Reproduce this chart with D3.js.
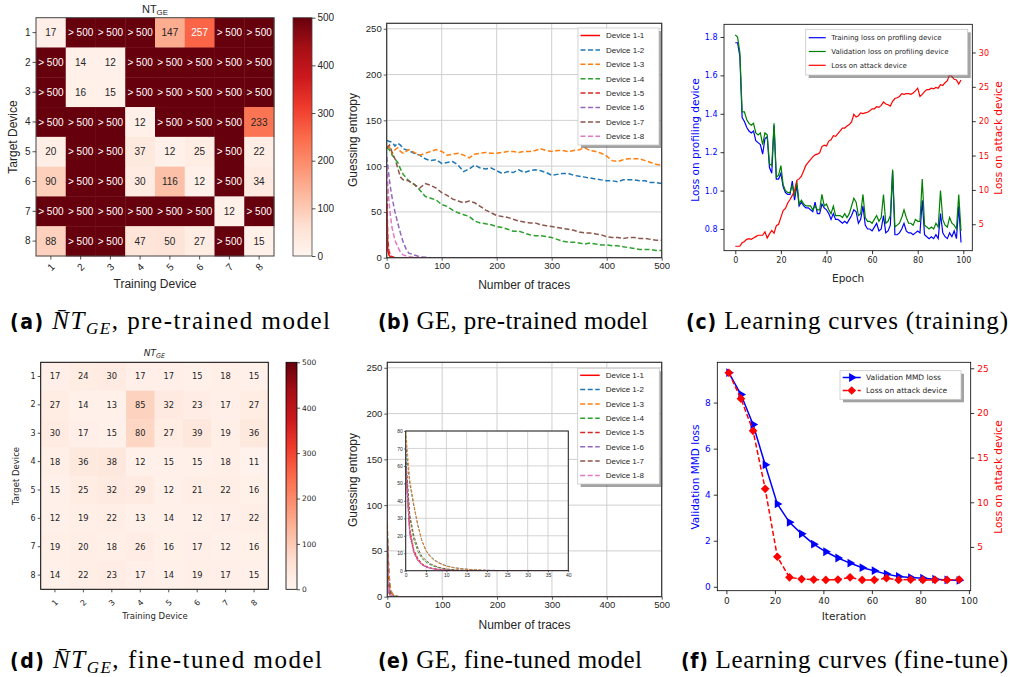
<!DOCTYPE html>
<html>
<head>
<meta charset="utf-8">
<script src="https://cdn.jsdelivr.net/npm/d3@7"></script>
<style>
  body { margin: 0; background: #fff; }
  svg { display: block; }
</style>
</head>
<body>
<svg id="fig" width="1010" height="677"></svg>
<script>
// ---------------- data ----------------
const devices = ["1", "2", "3", "4", "5", "6", "7", "8"];
const OVER = null; // cell shown as "> 500"

// NT_GE, pre-trained model (rows = target device, cols = training device)
const ntPretrained = [
  [17, OVER, OVER, OVER, 147, 257, OVER, OVER],
  [OVER, 14, 12, OVER, OVER, OVER, OVER, OVER],
  [OVER, 16, 15, OVER, OVER, OVER, OVER, OVER],
  [OVER, OVER, OVER, 12, OVER, OVER, OVER, 233],
  [20, OVER, OVER, 37, 12, 25, OVER, 22],
  [90, OVER, OVER, 30, 116, 12, OVER, 34],
  [OVER, OVER, OVER, OVER, OVER, OVER, 12, OVER],
  [88, OVER, OVER, 47, 50, 27, OVER, 15]
];

// NT_GE, fine-tuned model
const ntFinetuned = [
  [17, 24, 30, 17, 17, 15, 18, 15],
  [27, 14, 13, 85, 32, 23, 17, 27],
  [30, 17, 15, 80, 27, 39, 19, 36],
  [18, 36, 38, 12, 15, 15, 18, 11],
  [15, 25, 32, 29, 12, 21, 22, 16],
  [12, 19, 22, 13, 14, 12, 17, 22],
  [19, 20, 18, 26, 16, 17, 12, 16],
  [14, 22, 23, 17, 14, 19, 17, 15]
];
const heatTicks = [0, 100, 200, 300, 400, 500];

const geNames = ["Device 1-1", "Device 1-2", "Device 1-3", "Device 1-4",
                 "Device 1-5", "Device 1-6", "Device 1-7", "Device 1-8"];
const geXTicks = [0, 100, 200, 300, 400, 500];
const geYTicks = [0, 50, 100, 150, 200, 250];

// GE, pre-trained model: slow devices
const geSlowX = [0, 5, 10, 15, 20, 25, 30, 40, 50, 60, 70, 80, 90, 100, 110, 120, 130, 140, 150, 160,
  170, 180, 190, 200, 210, 220, 230, 240, 250, 260, 270, 280, 290, 300, 310, 320, 330, 340, 350, 360,
  370, 380, 390, 400, 410, 420, 430, 440, 450, 460, 470, 480, 490, 500];
const gePre12 = [128, 127, 126, 122, 125, 123, 119, 117, 114, 112, 108, 106, 107, 103, 104, 105, 101, 94, 97, 101,
  98, 97, 98, 95, 92, 94, 93, 96, 93, 95, 96, 95, 93, 90, 91, 92, 92, 90, 89, 88,
  87, 86, 85, 84, 84, 83, 85, 85, 85, 84, 84, 82, 82, 81];
const gePre13 = [120, 121, 113, 118, 120, 116, 114, 118, 115, 112, 114, 116, 118, 116, 112, 113, 114, 112, 109, 113,
  114, 115, 114, 114, 115, 116, 116, 115, 116, 116, 117, 119, 117, 116, 117, 117, 116, 117, 118, 120,
  117, 116, 114, 111, 106, 105, 107, 108, 108, 108, 106, 104, 102, 101];
const gePre14 = [120, 118, 112, 108, 104, 97, 91, 84, 80, 74, 67, 65, 63, 58, 56, 52, 49, 47, 45, 40,
  38, 37, 36, 34, 33, 31, 29, 29, 27, 25, 24, 24, 23, 22, 20, 18, 17, 17, 16, 15,
  16, 15, 14, 14, 13, 13, 12, 11, 10, 9, 9, 9, 8, 8];
const gePre17 = [120, 123, 115, 108, 98, 88, 85, 84, 80, 76, 81, 79, 76, 71, 68, 64, 62, 60, 62, 60,
  56, 52, 49, 46, 45, 44, 42, 40, 39, 38, 38, 36, 35, 34, 33, 32, 31, 30, 28, 27,
  27, 26, 25, 23, 22, 22, 21, 22, 22, 21, 21, 20, 19, 19];
// GE, pre-trained model: fast devices
const geFastX = [0, 2, 4, 6, 8, 10, 15, 20, 25, 30, 35, 40, 50, 60, 80, 100, 500];
const gePre11 = [60, 8, 3, 1.5, 1, 0.5, 0, 0, 0, 0, 0, 0, 0, 0, 0, 0, 0];
const gePre15 = [75, 20, 8, 4, 2, 1, 0, 0, 0, 0, 0, 0, 0, 0, 0, 0, 0];
const gePre16 = [110, 100, 90, 80, 72, 65, 50, 38, 27, 17, 10, 5, 3, 1, 0, 0, 0];
const gePre18 = [100, 80, 62, 50, 40, 32, 19, 12, 6, 3, 2, 1, 0.5, 0, 0, 0, 0];

// GE, fine-tuned model
const geFineX = [0, 1, 2, 3, 4, 5, 6, 7, 8, 9, 10, 12, 14, 16, 18, 20, 25, 30, 40, 500];
const geFine11 = [60, 22, 11, 6, 3.5, 2.2, 1.5, 1, 0.7, 0.5, 0.3, 0.1, 0, 0, 0, 0, 0, 0, 0, 0];
const geFine12 = [72, 50, 37, 26, 17, 11.5, 8.5, 6.3, 4.8, 3.7, 2.8, 1.7, 1.1, 0.7, 0.4, 0.25, 0, 0, 0, 0];
const geFine13 = [80, 52, 38, 26, 17, 11.5, 8, 6, 4.5, 3.5, 2.6, 1.6, 1, 0.6, 0.4, 0.2, 0, 0, 0, 0];
const geFine14 = [65, 30, 18, 11, 7, 5, 3.5, 2.5, 1.8, 1.2, 0.8, 0.4, 0.2, 0, 0, 0, 0, 0, 0, 0];
const geFine15 = [62, 24, 12, 7, 4, 2.5, 1.7, 1.1, 0.8, 0.5, 0.3, 0.1, 0, 0, 0, 0, 0, 0, 0, 0];
const geFine16 = [58, 20, 10, 5.5, 3.3, 2, 1.4, 1, 0.6, 0.4, 0.2, 0.1, 0, 0, 0, 0, 0, 0, 0, 0];
const geFine17 = [65, 32, 20, 13, 8, 6, 4, 3, 2, 1.5, 1, 0.5, 0.3, 0.1, 0, 0, 0, 0, 0, 0];
const geFine18 = [60, 21, 11, 6, 3.6, 2.4, 1.6, 1.1, 0.8, 0.5, 0.3, 0.1, 0, 0, 0, 0, 0, 0, 0, 0];
const insetXTicks = [0, 5, 10, 15, 20, 25, 30, 35, 40];
const insetYTicks = [0, 10, 20, 30, 40, 50, 60, 70, 80];

// learning curves (training), one value per epoch 0..99
const epochs = d3.range(100);
const trainLoss = [1.77, 1.77, 1.70, 1.38, 1.36, 1.33, 1.31, 1.30, 1.31, 1.26,
  1.25, 1.24, 1.19, 1.27, 1.28, 1.12, 1.09, 1.34, 1.06, 1.06,
  1.09, 1.02, 0.99, 0.98, 0.98, 1.05, 0.95, 1.03, 0.92, 0.94,
  0.92, 0.91, 0.91, 0.90, 0.89, 0.94, 0.88, 0.88, 0.93, 0.91,
  0.90, 0.88, 0.85, 0.88, 0.85, 0.85, 0.84, 0.83, 0.84, 0.83,
  0.85, 0.87, 0.90, 0.89, 0.83, 0.85, 0.92, 0.82, 0.80, 0.80,
  0.79, 0.81, 0.83, 0.79, 0.80, 0.87, 0.78, 0.79, 0.82, 1.10,
  0.77, 0.77, 0.78, 0.80, 0.83, 0.79, 0.78, 0.78, 0.77, 0.78,
  0.79, 0.78, 0.95, 0.77, 0.76, 0.75, 0.76, 0.75, 0.77, 0.75,
  0.88, 0.78, 0.76, 0.75, 0.78, 0.76, 0.79, 0.75, 0.92, 0.73];
const valLoss = [1.81, 1.80, 1.72, 1.41, 1.41, 1.37, 1.35, 1.34, 1.35, 1.30,
  1.29, 1.30, 1.24, 1.30, 1.29, 1.14, 1.13, 1.35, 1.07, 1.08,
  1.13, 1.03, 1.00, 0.99, 0.99, 1.03, 0.97, 1.05, 0.93, 0.95,
  0.93, 0.92, 0.92, 0.92, 0.90, 0.92, 0.90, 0.90, 0.98, 0.92,
  0.93, 0.90, 0.88, 0.92, 0.87, 0.87, 0.87, 0.86, 0.88, 0.86,
  0.88, 0.92, 0.96, 0.94, 0.87, 0.88, 0.98, 0.86, 0.84, 0.84,
  0.83, 0.85, 0.87, 0.84, 0.86, 0.98, 0.83, 0.84, 0.87, 1.11,
  0.81, 0.82, 0.83, 0.86, 0.90, 0.86, 0.83, 0.83, 0.82, 0.85,
  0.84, 0.84, 1.06, 0.82, 0.81, 0.80, 0.81, 0.80, 0.83, 0.81,
  1.00, 0.85, 0.82, 0.81, 0.86, 0.83, 0.82, 0.80, 0.98, 0.79];
const attackLossTrain = [1.8, 1.8, 1.8, 2.3, 2.5, 2.8, 2.9, 2.8, 3.0, 3.2,
  3.4, 3.4, 3.4, 3.9, 3.0, 3.6, 4.1, 3.7, 4.8, 5.0,
  6.0, 7.0, 7.3, 8.1, 8.6, 9.2, 9.9, 11.4, 11.6, 12.0,
  12.8, 13.6, 14.0, 14.4, 14.8, 15.1, 15.2, 15.4, 16.3, 16.5,
  16.4, 17.1, 17.3, 17.9, 17.8, 18.2, 18.6, 19.0, 19.0, 19.3,
  19.5, 19.9, 21.0, 20.6, 20.8, 21.2, 21.1, 21.2, 21.3, 21.5,
  21.8, 21.8, 22.1, 22.0, 22.3, 22.8, 22.5, 22.4, 22.2, 22.9,
  23.3, 23.4, 23.6, 24.0, 23.9, 24.0, 24.0, 23.9, 24.1, 24.4,
  24.8, 23.6, 23.9, 24.3, 24.6, 24.6, 24.8, 24.7, 24.9, 24.8,
  25.3, 25.2, 25.6, 25.9, 26.8, 26.5, 26.1, 26.0, 25.4, 26.0];

// learning curves (fine-tune)
const iterations = [1, 6, 11, 16, 21, 26, 31, 36, 41, 46, 51, 56, 61, 66, 71, 76, 81, 86, 91, 96];
const mmdLoss = [9.3, 8.35, 7.05, 5.3, 3.6, 2.8, 2.3, 1.85, 1.52, 1.25, 1.03, 0.83, 0.70, 0.55, 0.45, 0.40, 0.37, 0.33, 0.30, 0.28];
const attackLossFine = [24.5, 21.6, 18.0, 11.5, 3.9, 1.6, 1.4, 1.35, 1.3, 1.35, 1.6, 1.3, 1.3, 1.5, 1.3, 1.35, 1.3, 1.3, 1.3, 1.35];

// ---------------- drawing ----------------
const svg = d3.select("#fig");
const defs = svg.append("defs");
const SANS = "'Liberation Sans', Arial, sans-serif";
const DEJA = "'DejaVu Sans', sans-serif";
const SERIF = "'Liberation Serif', 'DejaVu Serif', serif";
const BOLDSANS = "'DejaVu Sans Condensed', 'DejaVu Sans', sans-serif";
const INK = "#262626";
const tab = ["#ff0000", "#1f77b4", "#ff7f0e", "#2ca02c", "#d62728", "#9467bd", "#8c564b", "#e377c2"];

const reds = d3.scaleLinear()
  .domain(d3.range(9).map(i => i * 500 / 8))
  .range(d3.schemeReds[9])
  .clamp(true);

function addAxis(parent, axis, transform, o) {
  const a = parent.append("g").attr("transform", transform).call(axis);
  a.select(".domain").remove();
  a.attr("font-family", null).attr("font-size", null);
  a.selectAll("text").attr("font-family", o.font).attr("font-size", o.size).attr("fill", o.color || INK);
  a.selectAll(".tick line").attr("stroke", o.tickColor || INK).attr("stroke-width", o.tickWidth || 0.8);
  return a;
}

function label(g, x, y, text, o) {
  return g.append("text")
    .attr("transform", `translate(${x},${y})` + (o.rotate ? " rotate(-90)" : ""))
    .attr("text-anchor", "middle").attr("dy", "0.35em")
    .attr("font-family", o.font).attr("font-size", o.size)
    .attr("fill", o.color || INK).text(text);
}

function heatmap(o) {
  const g = svg.append("g");
  const x = d3.scaleBand().domain(devices).range([o.x0, o.x1]);
  const y = d3.scaleBand().domain(devices).range([o.y0, o.y1]);
  const cells = o.data.flatMap((row, i) => row.map((v, j) => ({ row: devices[i], col: devices[j], v })));

  g.selectAll("rect.cell").data(cells).join("rect").attr("class", "cell")
    .attr("x", d => x(d.col)).attr("y", d => y(d.row))
    .attr("width", x.bandwidth() + 0.4).attr("height", y.bandwidth() + 0.4)
    .attr("fill", d => reds(d.v === OVER ? 500 : d.v));

  g.selectAll("text.cell").data(cells).join("text").attr("class", "cell")
    .attr("x", d => x(d.col) + x.bandwidth() / 2)
    .attr("y", d => y(d.row) + y.bandwidth() / 2)
    .attr("dy", "0.36em").attr("text-anchor", "middle")
    .attr("font-family", o.font).attr("font-size", o.cellFont)
    .attr("fill", d => (d.v === OVER || d.v > 250) ? "#fff" : INK)
    .text(d => d.v === OVER ? "> 500" : d.v);

  g.append("rect").attr("x", o.x0).attr("y", o.y0)
    .attr("width", o.x1 - o.x0).attr("height", o.y1 - o.y0)
    .attr("fill", "none").attr("stroke", o.frame).attr("stroke-width", 1);

  addAxis(g, d3.axisLeft(y).tickSize(o.tick).tickPadding(2), `translate(${o.x0},0)`,
    { font: o.font, size: o.tickFont });
  const xa = addAxis(g, d3.axisBottom(x).tickSize(o.tick), `translate(0,${o.y1})`,
    { font: o.font, size: o.tickFont });
  xa.selectAll("text").attr("y", 0).attr("dy", "0.35em").attr("text-anchor", "middle")
    .attr("transform", `translate(0,${o.xlabOff}) rotate(-45)`);

  label(g, o.ylab[0], o.ylab[1], "Target Device", { font: o.font, size: o.labFont, rotate: true });
  label(g, o.xlab[0], o.xlab[1], "Training Device", { font: o.font, size: o.labFont });

  const title = g.append("text").attr("x", (o.x0 + o.x1) / 2).attr("y", o.titleY)
    .attr("text-anchor", "middle").attr("font-family", o.font).attr("font-size", o.titleFont)
    .attr("font-style", o.titleItalic ? "italic" : null).attr("fill", INK);
  title.append("tspan").text("NT");
  title.append("tspan").attr("font-size", o.titleFont * 0.72).attr("dy", o.titleFont * 0.22).text("GE");

  // colorbar
  const cy = d3.scaleLinear().domain([0, 500]).range([o.y1, o.y0]);
  const grad = defs.append("linearGradient").attr("id", o.id + "-grad")
    .attr("x1", 0).attr("x2", 0).attr("y1", 1).attr("y2", 0);
  grad.selectAll("stop").data(reds.domain()).join("stop")
    .attr("offset", d => d / 500).attr("stop-color", d => reds(d));
  g.append("rect").attr("x", o.cbX).attr("y", o.y0).attr("width", o.cbW).attr("height", o.y1 - o.y0)
    .attr("fill", `url(#${o.id}-grad)`).attr("stroke", o.frame).attr("stroke-width", 0.8);
  addAxis(g, d3.axisRight(cy).tickValues(heatTicks).tickSize(o.cbTick).tickPadding(2),
    `translate(${o.cbX + o.cbW},0)`, { font: o.font, size: o.cbFont });
}

function legend(o) {
  const g = svg.append("g");
  g.append("rect").attr("x", o.x + 3).attr("y", o.y + 3).attr("width", o.w).attr("height", o.h)
    .attr("fill", "#555").attr("opacity", 0.55);
  g.append("rect").attr("x", o.x).attr("y", o.y).attr("width", o.w).attr("height", o.h)
    .attr("fill", "#fff").attr("stroke", "#c8c8c8").attr("stroke-width", 0.8);
  o.items.forEach((it, i) => {
    const yy = o.y + o.first + i * o.step;
    g.append("line").attr("x1", o.x + o.l0).attr("x2", o.x + o.l1).attr("y1", yy).attr("y2", yy)
      .attr("stroke", it.color).attr("stroke-width", it.width || 1.5)
      .attr("stroke-dasharray", it.dash || null);
    if (it.marker) it.marker(g, o.x + (o.l0 + o.l1) / 2, yy);
    g.append("text").attr("x", o.x + o.tx).attr("y", yy).attr("dy", "0.35em")
      .attr("font-family", o.font).attr("font-size", o.size).attr("fill", INK).text(it.name);
  });
}

function frame(g, x0, y0, x1, y1, color, width) {
  g.append("rect").attr("x", x0).attr("y", y0).attr("width", x1 - x0).attr("height", y1 - y0)
    .attr("fill", "none").attr("stroke", color).attr("stroke-width", width);
}

function grid(g, x, y, xt, yt, color, width) {
  const [x0, x1] = x.range(), [y1, y0] = y.range();
  g.append("g").selectAll("line").data(xt).join("line")
    .attr("x1", d => x(d)).attr("x2", d => x(d)).attr("y1", y0).attr("y2", y1)
    .attr("stroke", color).attr("stroke-width", width);
  g.append("g").selectAll("line").data(yt).join("line")
    .attr("x1", x0).attr("x2", x1).attr("y1", d => y(d)).attr("y2", d => y(d))
    .attr("stroke", color).attr("stroke-width", width);
}

function clip(id, x0, y0, x1, y1) {
  defs.append("clipPath").attr("id", id).append("rect")
    .attr("x", x0).attr("y", y0).attr("width", x1 - x0).attr("height", y1 - y0);
  return `url(#${id})`;
}

function drawSeries(g, x, y, series, width, dash) {
  series.forEach(s => {
    const pts = s.xs.map((v, i) => [v, s.ys[i]]);
    g.append("path").datum(pts)
      .attr("d", d3.line().x(d => x(d[0])).y(d => y(d[1])))
      .attr("fill", "none").attr("stroke", s.color).attr("stroke-width", width)
      .attr("stroke-dasharray", s.solid ? null : dash);
  });
}

function gePanel(o) {
  const g = svg.append("g");
  const x = d3.scaleLinear().domain([0, 500]).range([o.x0, o.x1]);
  const y = d3.scaleLinear().domain([0, 256]).range([o.y1, o.y0]);
  grid(g, x, y, geXTicks, geYTicks, "#cfcfcf", 1);
  const lg = g.append("g").attr("clip-path", clip(o.id + "-clip", o.x0, o.y0, o.x1, o.y1));
  drawSeries(lg, x, y, o.series, 1.5, "5,2.5");
  frame(g, o.x0, o.y0, o.x1, o.y1, "#333", 1.2);
  addAxis(g, d3.axisLeft(y).tickValues(geYTicks).tickSize(3).tickPadding(2), `translate(${o.x0},0)`,
    { font: SANS, size: 9.5, tickColor: "#333" });
  addAxis(g, d3.axisBottom(x).tickValues(geXTicks).tickSize(3).tickPadding(2), `translate(0,${o.y1})`,
    { font: SANS, size: 9.5, tickColor: "#333" });
  label(g, o.ylab[0], o.ylab[1], "Guessing entropy", { font: SANS, size: 12, rotate: true });
  label(g, (o.x0 + o.x1) / 2, o.xlabY, "Number of traces", { font: SANS, size: 12 });
  return g;
}

// ---------- (a) ----------
heatmap({
  id: "a", data: ntPretrained, x0: 36, x1: 274, y0: 17.7, y1: 256,
  font: SANS, cellFont: 10, tickFont: 10, labFont: 12, tick: 3.5, frame: "#444",
  xlabOff: 11, ylab: [12.5, 137], xlab: [155, 284], titleY: 13, titleFont: 11, titleItalic: false,
  cbX: 293, cbW: 19, cbTick: 3.5, cbFont: 10
});

// ---------- (d) ----------
heatmap({
  id: "d", data: ntFinetuned, x0: 40.7, x1: 268.3, y0: 362.3, y1: 589.3,
  font: DEJA, cellFont: 8.3, tickFont: 8, labFont: 8.5, tick: 3, frame: "#000",
  xlabOff: 13.5, ylab: [16, 476], xlab: [155, 616], titleY: 356, titleFont: 9, titleItalic: true,
  cbX: 286, cbW: 11, cbTick: 3, cbFont: 7.5
});

// ---------- (b) ----------
const preSeries = [
  { xs: geFastX, ys: gePre11, color: tab[0], solid: true },
  { xs: geSlowX, ys: gePre12, color: tab[1] },
  { xs: geSlowX, ys: gePre13, color: tab[2] },
  { xs: geSlowX, ys: gePre14, color: tab[3] },
  { xs: geFastX, ys: gePre15, color: tab[4] },
  { xs: geFastX, ys: gePre16, color: tab[5] },
  { xs: geSlowX, ys: gePre17, color: tab[6] },
  { xs: geFastX, ys: gePre18, color: tab[7] }
];
gePanel({ id: "b", x0: 386.7, x1: 661.7, y0: 23.3, y1: 257.7, series: preSeries, ylab: [353, 140], xlabY: 285 });
const geLegendItems = geNames.map((n, i) => ({ name: n, color: tab[i], dash: i === 0 ? null : "5,2.5" }));
legend({ x: 578, y: 28, w: 81, h: 117, items: geLegendItems, first: 7.5, step: 14.4,
  l0: 2.5, l1: 22, tx: 28, font: SANS, size: 8 });

// ---------- (e) ----------
const fineSeries = [geFine11, geFine12, geFine13, geFine14, geFine15, geFine16, geFine17, geFine18]
  .map((ys, i) => ({ xs: geFineX, ys, color: tab[i], solid: i === 0 }));
gePanel({ id: "e", x0: 387.3, x1: 661.7, y0: 362.3, y1: 596.7, series: fineSeries, ylab: [353, 480], xlabY: 625 });
legend({ x: 577.7, y: 368.3, w: 81.6, h: 115.7, items: geLegendItems, first: 7, step: 14.3,
  l0: 2.5, l1: 22, tx: 28, font: SANS, size: 8 });

// inset
{
  const ix0 = 405.7, ix1 = 568.3, iy0 = 431, iy1 = 570.7;
  const g = svg.append("g");
  const x = d3.scaleLinear().domain([0, 40]).range([ix0, ix1]);
  const y = d3.scaleLinear().domain([0, 80]).range([iy1, iy0]);
  g.append("rect").attr("x", ix0).attr("y", iy0).attr("width", ix1 - ix0).attr("height", iy1 - iy0).attr("fill", "#fff");
  grid(g, x, y, insetXTicks, insetYTicks, "#cfcfcf", 0.9);
  const lg = g.append("g").attr("clip-path", clip("inset-clip", ix0, iy0, ix1, iy1));
  drawSeries(lg, x, y, fineSeries, 1, "3,1.5");
  frame(g, ix0, iy0, ix1, iy1, "#222", 1);
  addAxis(g, d3.axisLeft(y).tickValues(insetYTicks).tickSize(1.5).tickPadding(1.5), `translate(${ix0},0)`,
    { font: SANS, size: 5, tickColor: "#333" });
  addAxis(g, d3.axisBottom(x).tickValues(insetXTicks).tickSize(1.5).tickPadding(1), `translate(0,${iy1})`,
    { font: SANS, size: 5, tickColor: "#333" });
}

// ---------- (c) ----------
{
  const x0 = 724, x1 = 972.3, y0 = 24.3, y1 = 250.7;
  const g = svg.append("g");
  const x = d3.scaleLinear().domain([-4.95, 103.95]).range([x0, x1]);
  const yl = d3.scaleLinear().domain([0.687, 1.866]).range([y1, y0]);
  const yr = d3.scaleLinear().domain([1.15, 34.1]).range([y1, y0]);
  const ln = (ys, sc) => d3.line().x((d, i) => x(epochs[i])).y(d => sc(d))(ys);
  g.append("path").attr("d", ln(trainLoss, yl)).attr("fill", "none").attr("stroke", "#0000ff").attr("stroke-width", 1.2);
  g.append("path").attr("d", ln(valLoss, yl)).attr("fill", "none").attr("stroke", "#008000").attr("stroke-width", 1.2);
  g.append("path").attr("d", ln(attackLossTrain, yr)).attr("fill", "none").attr("stroke", "#ff0000").attr("stroke-width", 1.2);
  frame(g, x0, y0, x1, y1, "#000", 0.8);
  addAxis(g, d3.axisBottom(x).tickValues([0, 20, 40, 60, 80, 100]).tickSize(3.5).tickPadding(3),
    `translate(0,${y1})`, { font: DEJA, size: 8, tickColor: "#000" });
  addAxis(g, d3.axisLeft(yl).tickValues([0.8, 1.0, 1.2, 1.4, 1.6, 1.8]).tickFormat(d3.format(".1f")).tickSize(3.5).tickPadding(3),
    `translate(${x0},0)`, { font: DEJA, size: 8, color: "#0000ff", tickColor: "#000" });
  addAxis(g, d3.axisRight(yr).tickValues([5, 10, 15, 20, 25, 30]).tickSize(3.5).tickPadding(3),
    `translate(${x1},0)`, { font: DEJA, size: 8, color: "#ff0000", tickColor: "#000" });
  label(g, 695, 140, "Loss on profiling device", { font: DEJA, size: 10.5, rotate: true, color: "#0000ff" });
  label(g, 998, 138, "Loss on attack device", { font: DEJA, size: 10.5, rotate: true, color: "#ff0000" });
  label(g, (x0 + x1) / 2, 278, "Epoch", { font: DEJA, size: 10.5 });
  legend({ x: 805.7, y: 29.3, w: 162, h: 45.7, first: 8.4, step: 13.8, l0: 3, l1: 20, tx: 25.5,
    font: DEJA, size: 7, items: [
      { name: "Training loss on profiling device", color: "#0000ff", width: 1.2 },
      { name: "Validation loss on profiling device", color: "#008000", width: 1.2 },
      { name: "Loss on attack device", color: "#ff0000", width: 1.2 }
    ] });
}

// ---------- (f) ----------
{
  const x0 = 717.3, x1 = 970.7, y0 = 362.3, y1 = 590.7;
  const g = svg.append("g");
  const x = d3.scaleLinear().domain([-3.75, 100.75]).range([x0, x1]);
  const yl = d3.scaleLinear().domain([-0.17, 9.75]).range([y1, y0]);
  const yr = d3.scaleLinear().domain([0.1, 25.67]).range([y1, y0]);
  const tri = d3.symbol(d3.symbolTriangle, 34);
  const dia = d3.symbol(d3.symbolSquare, 38);
  const triMark = (gg, cx, cy) => gg.append("path").attr("d", tri()).attr("fill", "#0000ff")
    .attr("transform", `translate(${cx},${cy}) rotate(90)`);
  const diaMark = (gg, cx, cy) => gg.append("path").attr("d", dia()).attr("fill", "#ff0000")
    .attr("transform", `translate(${cx},${cy}) rotate(45)`);

  g.append("path").attr("d", d3.line().x((d, i) => x(iterations[i])).y(d => yl(d))(mmdLoss))
    .attr("fill", "none").attr("stroke", "#0000ff").attr("stroke-width", 1.5);
  mmdLoss.forEach((v, i) => triMark(g, x(iterations[i]), yl(v)));
  g.append("path").attr("d", d3.line().x((d, i) => x(iterations[i])).y(d => yr(d))(attackLossFine))
    .attr("fill", "none").attr("stroke", "#ff0000").attr("stroke-width", 1.5).attr("stroke-dasharray", "5,2.5");
  attackLossFine.forEach((v, i) => diaMark(g, x(iterations[i]), yr(v)));

  frame(g, x0, y0, x1, y1, "#000", 0.8);
  addAxis(g, d3.axisBottom(x).tickValues([0, 20, 40, 60, 80, 100]).tickSize(3.5).tickPadding(3),
    `translate(0,${y1})`, { font: DEJA, size: 9, tickColor: "#000" });
  addAxis(g, d3.axisLeft(yl).tickValues([0, 2, 4, 6, 8]).tickSize(3.5).tickPadding(3),
    `translate(${x0},0)`, { font: DEJA, size: 9, color: "#0000ff", tickColor: "#000" });
  addAxis(g, d3.axisRight(yr).tickValues([5, 10, 15, 20, 25]).tickSize(3.5).tickPadding(3),
    `translate(${x1},0)`, { font: DEJA, size: 9, color: "#ff0000", tickColor: "#000" });
  label(g, 695, 477, "Validation MMD loss", { font: DEJA, size: 10.5, rotate: true, color: "#0000ff" });
  label(g, 998, 477, "Loss on attack device", { font: DEJA, size: 10.5, rotate: true, color: "#ff0000" });
  label(g, (x0 + x1) / 2, 616, "Iteration", { font: DEJA, size: 10.5 });
  legend({ x: 840, y: 370.7, w: 121, h: 28.6, first: 6.8, step: 13, l0: 2.7, l1: 20.7, tx: 26,
    font: DEJA, size: 7.5, items: [
      { name: "Validation MMD loss", color: "#0000ff", marker: triMark },
      { name: "Loss on attack device", color: "#ff0000", dash: "5,2.5", marker: diaMark }
    ] });
}

// ---------- captions ----------
// width = span of each caption in the reference, the spacing is stretched to fit
function caption(x, y, width, letter, math, rest) {
  const t = svg.append("text").attr("x", x).attr("y", y)
    .attr("font-family", SERIF).attr("font-size", 25).attr("fill", "#000")
    .attr("textLength", width).attr("lengthAdjust", "spacing");
  t.append("tspan").attr("font-family", BOLDSANS).attr("font-weight", "bold")
    .attr("font-stretch", "condensed").attr("font-size", 21).text(`(${letter})`);
  t.append("tspan").text(" ");
  if (math) {
    t.append("tspan").attr("font-style", "italic").text("N\u0304T");
    t.append("tspan").attr("font-style", "italic").attr("font-size", 17).attr("dy", 5).text("GE");
    t.append("tspan").attr("dy", -5).text(rest);
  } else {
    t.append("tspan").text(rest);
  }
}
caption(10, 329, 320, "a", true, ", pre-trained model");
caption(378, 329, 270, "b", false, "GE, pre-trained model");
caption(686, 329, 322, "c", false, "Learning curves (training)");
caption(10, 668, 312, "d", true, ", fine-tuned model");
caption(378, 668, 264, "e", false, "GE, fine-tuned model");
caption(681, 668, 327, "f", false, "Learning curves (fine-tune)");
</script>
</body>
</html>
